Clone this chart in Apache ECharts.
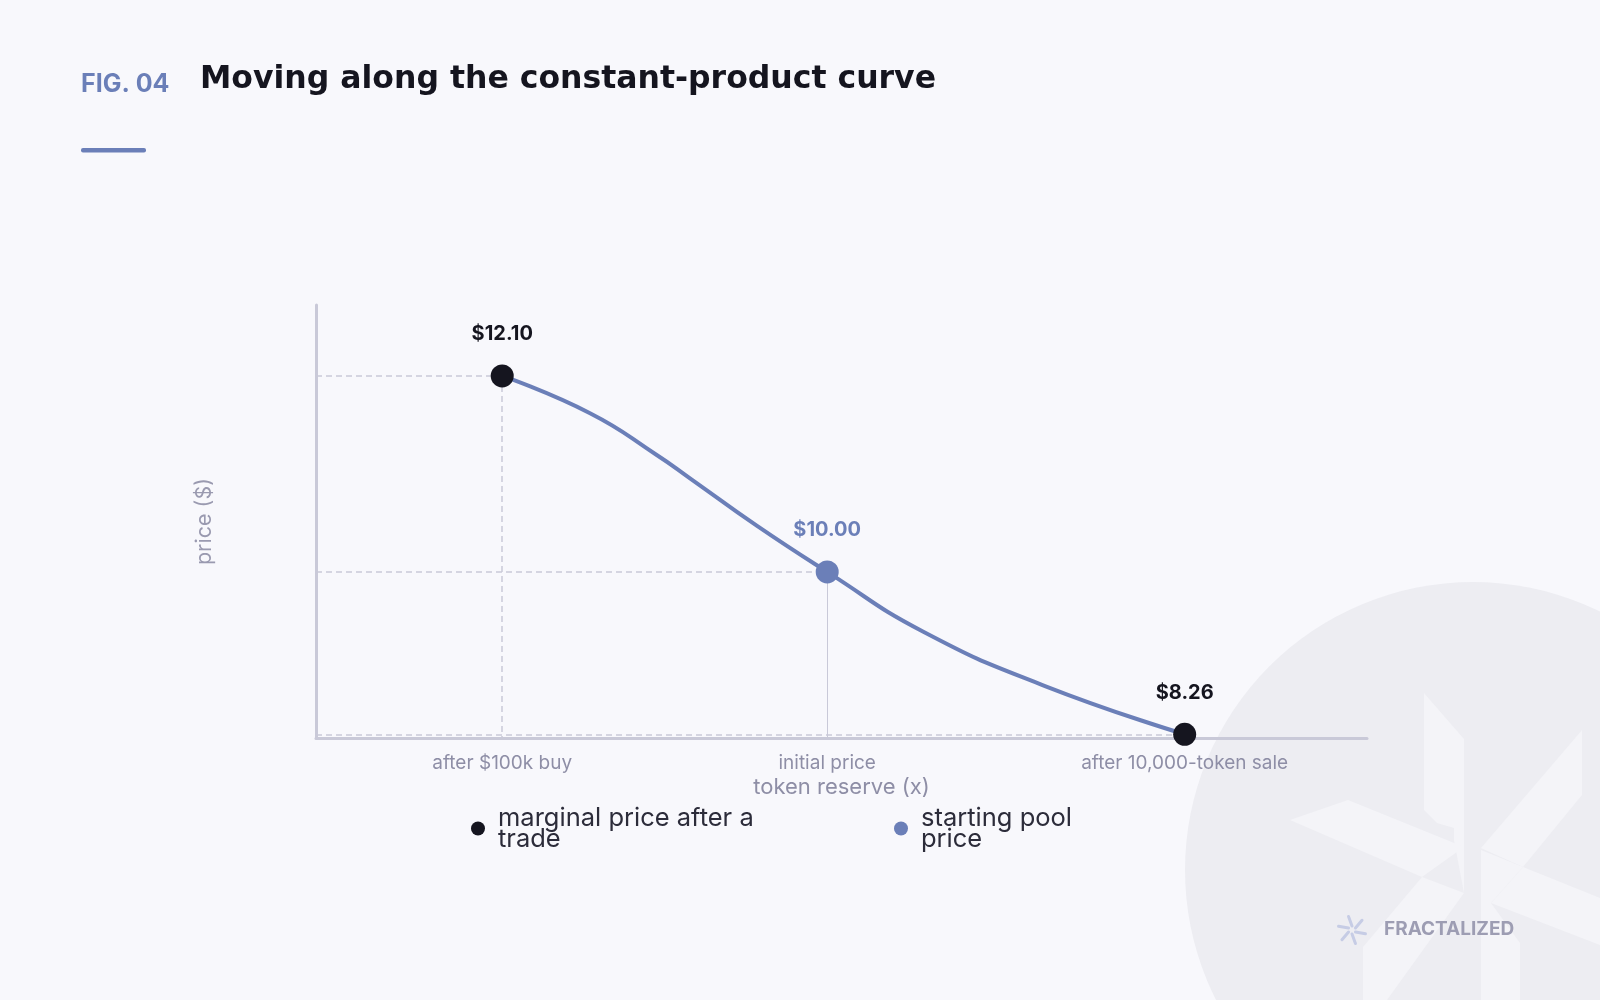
<!DOCTYPE html>
<html>
<head>
<meta charset="utf-8">
<title>Moving along the constant-product curve</title>
<script src="https://cdn.jsdelivr.net/npm/echarts@6/dist/echarts.min.js"></script>
<style>
  html, body { margin: 0; padding: 0; background: #f8f8fc; }
  #chart { width: 1600px; height: 1000px; }
</style>
</head>
<body>
<div id="chart"></div>
<script>
// token reserve (x) after each step of the pool, and the marginal price ($)
const stepLabels = ['after $100k buy', 'initial price', 'after 10,000-token sale']
const tokenReserve = [90909, 100000, 110000]
const prices = [12.10, 10.00, 8.26]
const seriesNames = ['marginal price after a trade', 'starting pool price']
const legendText = {
    'marginal price after a trade': 'marginal price after a\ntrade',
    'starting pool price': 'starting pool\nprice'
}

// points of the drawn curve
const curveReserve = [90909, 93365, 95231, 96162, 98028, 100000, 102689, 106093, 110000]
const curvePrice = [12.10, 11.700, 11.253, 11.003, 10.495, 10.00, 9.359, 8.777, 8.26]

const X_MIN = 85700, X_MAX = 115100
const Y_MIN = 8.22, Y_MAX = 12.86

const BLUE = '#6b7fb8'
const DARK = '#15151f'
const GUIDE = '#c9c9d8'
const FONT = 'Inter, "Noto Sans", sans-serif'

const chart = echarts.init(document.getElementById('chart'))

// marginal points = the two trades, starting point = initial price
const marginalPts = [[tokenReserve[0], prices[0]], [tokenReserve[2], prices[2]]]
const startPts = [[tokenReserve[1], prices[1]]]

function guides(pts, vertType) {
    let out = []
    pts.forEach(p => {
        out.push([{ coord: [X_MIN, p[1]] }, { coord: [p[0], p[1]] }])
        out.push([{ coord: [p[0], p[1]], lineStyle: { type: vertType, width: vertType === 'solid' ? 1 : 1.5 } },
                  { coord: [p[0], Y_MIN] }])
    })
    return out
}

const priceLabel = color => ({
    show: true,
    position: 'top',
    distance: 20,
    formatter: p => '$' + p.value[1].toFixed(2),
    color: color,
    fontFamily: FONT,
    fontWeight: 'bold',
    fontSize: 20
})

// six little blades for the logo mark
const blades = []
for (let i = 0; i < 6; i++) {
    const a = (i * 60 + 90) * Math.PI / 180
    blades.push({
        type: 'line', z: -1,
        shape: {
            x1: 1352 + Math.cos(a) * 4, y1: 930 - Math.sin(a) * 4,
            x2: 1352 + Math.cos(a + 0.25) * 14, y2: 930 - Math.sin(a + 0.25) * 14
        },
        style: { stroke: '#c6cce5', lineWidth: 3, lineCap: 'round' }
    })
}

const legendStyle = { color: '#2c2c3a', fontFamily: FONT, fontSize: 25.5, lineHeight: 21, padding: [0, 0, 0, 8] }

let options = {
    backgroundColor: '#f8f8fc',
    animation: false,
    title: [
        {
            text: 'FIG. 04',
            left: 81, top: 69, padding: 0,
            textStyle: { color: BLUE, fontFamily: FONT, fontWeight: 'bold', fontSize: 25, lineHeight: 30 }
        },
        {
            text: 'Moving along the constant-product curve',
            left: 200, top: 60, padding: 0,
            textStyle: { color: DARK, fontFamily: '"DejaVu Sans", sans-serif', fontWeight: 'bold', fontSize: 31.5, lineHeight: 40 }
        }
    ],
    graphic: [
        { type: 'rect', shape: { x: 81, y: 148, width: 65, height: 4.5, r: 2 }, style: { fill: BLUE } },
        // watermark
        { type: 'circle', z: -3, shape: { cx: 1473, cy: 870, r: 288 }, style: { fill: '#ededf2' } },
        { type: 'polygon', z: -2, shape: { points: [[1424, 693], [1464, 739], [1464, 893], [1454, 840], [1454, 828], [1437, 823], [1424, 810]] }, style: { fill: '#f4f4f8' } },
        { type: 'polygon', z: -2, shape: { points: [[1290, 820], [1348, 800], [1464, 847], [1422, 877]] }, style: { fill: '#f4f4f8' } },
        { type: 'polygon', z: -2, shape: { points: [[1481, 848], [1582, 730], [1582, 795], [1523, 867]] }, style: { fill: '#f4f4f8' } },
        { type: 'polygon', z: -2, shape: { points: [[1523, 867], [1600, 898], [1600, 945], [1491, 903]] }, style: { fill: '#f4f4f8' } },
        { type: 'polygon', z: -2, shape: { points: [[1422, 877], [1464, 893], [1387, 1000], [1363, 1000], [1363, 947]] }, style: { fill: '#f4f4f8' } },
        { type: 'polygon', z: -2, shape: { points: [[1481, 850], [1523, 867], [1491, 903], [1520, 943], [1520, 1000], [1481, 1000]] }, style: { fill: '#f4f4f8' } },
        ...blades,
        {
            type: 'text', z: -1,
            style: { text: 'FRACTALIZED', x: 1384, y: 929, verticalAlign: 'middle', fill: '#9d9db3',
                     font: 'bold 19px ' + FONT }
        }
    ],
    grid: { left: 316, right: 233, top: 305, bottom: 262 },
    legend: [
        {
            data: [seriesNames[0]], left: 471, top: 805, padding: 0,
            icon: 'circle', itemWidth: 14, itemHeight: 14,
            formatter: n => legendText[n],
            textStyle: legendStyle
        },
        {
            data: [seriesNames[1]], left: 894, top: 805, padding: 0,
            icon: 'circle', itemWidth: 14, itemHeight: 14,
            formatter: n => legendText[n],
            textStyle: legendStyle
        }
    ],
    xAxis: {
        type: 'value',
        min: X_MIN, max: X_MAX,
        name: 'token reserve (x)',
        nameLocation: 'middle',
        nameGap: 38,
        nameTextStyle: { color: '#8e8ea6', fontFamily: FONT, fontSize: 22 },
        axisLine: { lineStyle: { color: GUIDE, width: 3 } },
        axisTick: { show: false },
        splitLine: { show: false },
        axisLabel: {
            customValues: tokenReserve,
            formatter: v => stepLabels[tokenReserve.indexOf(v)],
            margin: 16,
            color: '#8e8ea6', fontFamily: FONT, fontSize: 19
        }
    },
    yAxis: {
        type: 'value',
        min: Y_MIN, max: Y_MAX,
        name: 'price ($)',
        nameLocation: 'middle',
        nameGap: 100,
        nameTextStyle: { color: '#9a9ab0', fontFamily: FONT, fontSize: 21.5 },
        axisLine: { show: true, lineStyle: { color: GUIDE, width: 3 } },
        axisTick: { show: false },
        splitLine: { show: false },
        axisLabel: { show: false }
    },
    series: [
        {
            name: 'guides',
            type: 'line',
            data: [],
            z: 1,
            silent: true,
            markLine: {
                silent: true,
                symbol: ['none', 'none'],
                label: { show: false },
                lineStyle: { color: GUIDE, type: [6, 4], width: 1.5 },
                data: [...guides(marginalPts, [6, 4]), ...guides(startPts, 'solid')]
            }
        },
        {
            name: 'curve',
            type: 'line',
            smooth: 0.5,
            showSymbol: false,
            z: 3,
            lineStyle: { color: BLUE, width: 4 },
            data: curveReserve.map((x, i) => [x, curvePrice[i]])
        },
        {
            name: seriesNames[0],
            type: 'scatter',
            z: 5,
            symbolSize: 23,
            itemStyle: { color: DARK, opacity: 1 },
            label: priceLabel(DARK),
            data: marginalPts
        },
        {
            name: seriesNames[1],
            type: 'scatter',
            z: 5,
            symbolSize: 23,
            itemStyle: { color: BLUE, opacity: 1 },
            label: priceLabel(BLUE),
            data: startPts
        }
    ]
}
chart.setOption(options, true)
</script>
</body>
</html>
